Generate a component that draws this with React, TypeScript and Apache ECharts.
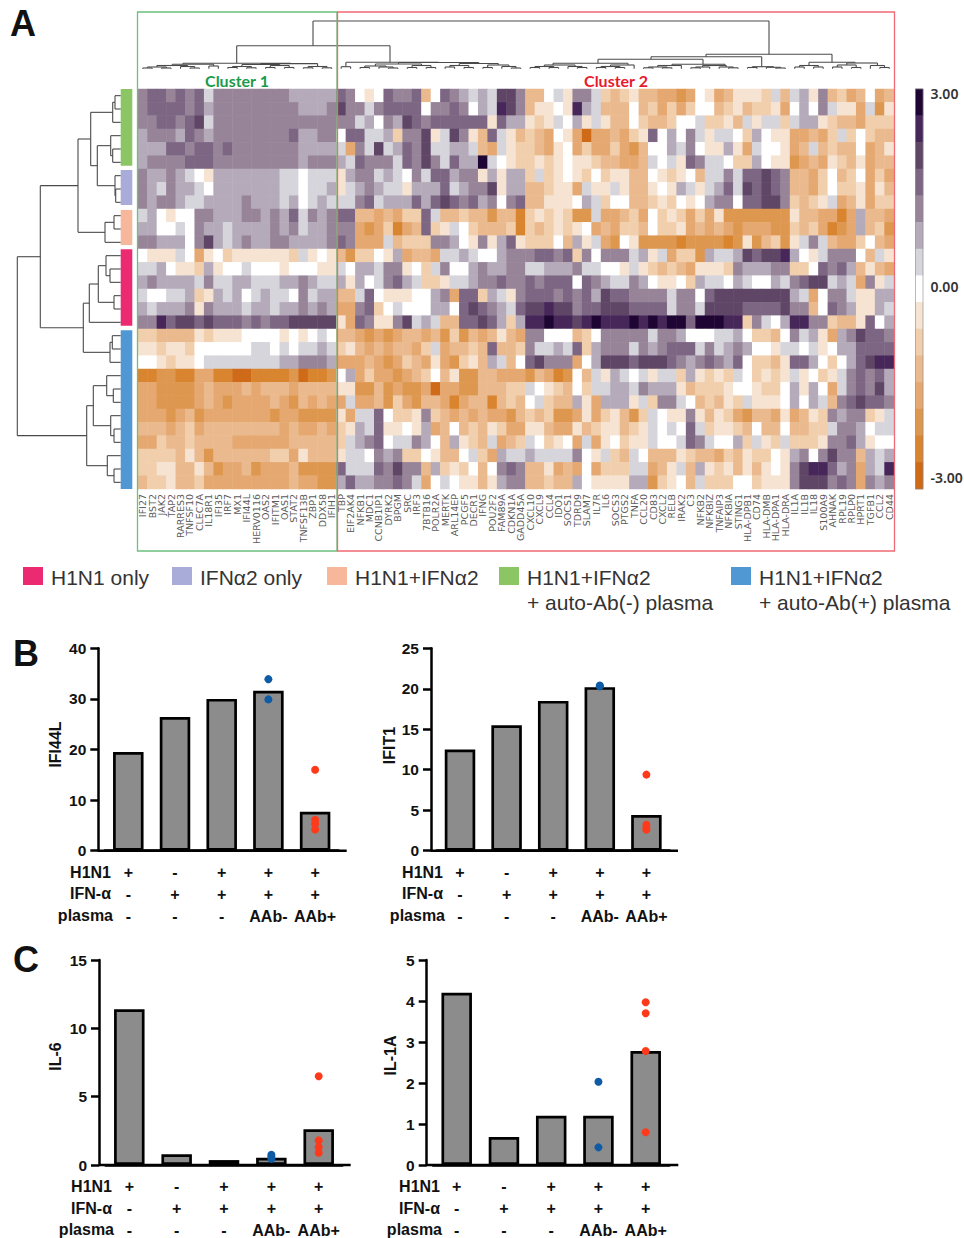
import React, { useEffect, useRef } from "react";
import * as echarts from "echarts";

const genes = ["IFI27","BST2","JAK2","TAP2","RARRES3","TNFSF10","CLEC7A","IL18R1","IFI35","IRF7","MX1","IFI44L","HERV0116","OAS2","IFITM1","OAS1","STAT2","TNFSF13B","ZBP1","DDX58","IFIH1","TBP","EIF2AK4","NFKB1","MDC1","CCNB1IP1","DYRK2","BPGM","SRC","IRF3","7BTB16","POLR2A","MERTK","ARL14EP","PCGF5","DECR1","IFNG","POU2F2","FAM89A","CDKN1A","GADD45A","CXCL10","CXCL9","CCL4","IDO1","SOCS1","TDRD9","SLAM7","IL7R","IL6","SOCS3","PTGS2","TNFA","CCL20","CD83","CXCL2","RELB","IRAK2","C3","NFKB2","NFKBIZ","TNFAIP3","NFKBIA","STING1","HLA-DPB1","CD74","HLA-DMB","HLA-DPA1","HLA-DRA","IL1A","IL1B","IL18","S100A9","AHNAK","RPL19","RPLP0","HPRT1","TGFB1","CCL2","CD44"];

// Heatmap rows, in colour-band steps (one step = 3/7 of a z-score)
const row00 = [3,4,4,3,4,3,4,1,3,3,3,3,3,3,3,3,2,2,2,2,2, 4,3,0,-1,0,4,3,3,4,-3,0,4,3,2,1,2,1,5,5,3, -3,-3,0,1,-1,3,3,1,-2,-3,-2,-1,-3,-3,-4,-4,-5,-4,0,-1,-4,-3,-1,-1,-1,-2,1,-3,1,2,-1,3,-3,-2,-4,-3,0,-4,-3];
const row01 = [3,4,4,4,4,3,4,2,3,3,3,3,3,3,3,3,3,2,2,2,3, 5,3,3,1,3,4,4,4,4,0,3,3,4,3,0,2,1,6,5,3, -3,-1,-1,0,-1,6,2,1,-3,-3,-3,0,-3,-2,-4,-2,-4,-2,0,0,-3,-2,-1,-3,-2,-2,-1,-4,0,2,0,3,1,-1,-1,-4,1,-5,-1];
const row02 = [3,3,4,4,3,4,5,1,3,3,3,3,3,3,3,3,3,3,3,3,3, 3,3,1,2,0,3,2,5,4,3,4,4,4,4,4,4,-1,4,2,2, -1,-2,-1,1,0,2,-1,1,-1,-3,-3,0,-2,-3,-3,-2,0,0,1,-2,-2,-1,-3,1,-1,1,1,-2,1,2,2,-1,-2,-3,-3,-4,-2,-2,-2];
const row03 = [2,3,3,3,2,4,3,2,3,3,3,3,3,3,3,3,4,2,2,3,3, 0,4,4,1,1,2,-2,3,3,5,-1,1,5,3,-1,-3,4,1,-1,-3, -2,-3,-4,0,-1,-4,-7,-4,-4,-3,-4,-2,-1,4,0,2,0,3,1,-1,1,1,0,-2,2,0,-1,-1,-4,-4,-3,-4,-2,1,-2,0,-2,-3,-3];
const row04 = [2,2,2,4,4,3,4,4,3,4,3,3,3,3,3,3,3,2,2,2,2, 1,-4,3,1,5,1,2,4,3,5,1,1,2,2,1,-3,-4,1,-1,-2, -2,-3,-4,-1,0,-4,-2,-4,-4,-2,-4,-5,-3,0,0,2,1,3,0,-1,-1,2,-1,-4,1,0,0,-1,-4,-3,1,-3,-2,-3,-3,0,-4,-3,-1];
const row05 = [2,3,3,3,3,4,4,4,3,3,3,3,3,3,3,3,3,2,3,3,3, 2,1,4,3,3,3,1,4,3,5,3,1,4,2,2,7,1,0,-1,-2, -2,-1,-2,-1,0,-1,-1,-2,-3,-3,-4,-4,-3,1,0,1,-1,4,3,1,1,0,-2,-2,2,0,-1,-1,-5,-4,-3,-4,-1,-2,-3,-1,-4,-3,-3];
const row06 = [3,2,2,3,2,1,0,-1,2,2,2,2,2,2,2,1,1,0,1,1,1, -1,2,3,3,1,2,1,0,3,1,4,4,2,3,3,-1,2,-1,2,2, -2,1,-2,-1,0,-1,-2,0,-2,-1,-1,-3,-3,0,-1,-2,-1,0,-3,1,1,3,1,4,4,5,4,3,-3,-3,-4,-2,0,-3,-2,0,-4,-2,-4];
const row07 = [3,2,1,3,2,2,1,0,2,2,2,2,2,2,2,1,1,0,1,1,2, -1,1,2,3,2,1,1,-1,2,2,2,4,1,2,3,3,5,-1,2,2, -3,-3,-2,-1,-1,-4,1,-1,-1,1,-1,-3,-3,-1,0,-1,2,1,-1,1,2,4,1,5,4,5,4,3,-3,-3,-4,-2,0,-2,-2,-1,-4,-1,-3];
const row08 = [3,2,3,3,2,1,1,2,2,2,2,3,2,2,2,1,2,0,1,2,1, 1,1,3,4,1,2,2,2,4,2,4,5,4,3,4,2,3,0,3,4, -3,-3,-1,-1,-1,0,2,1,-2,0,0,-3,-3,-2,-1,-2,0,-1,0,2,3,3,0,4,4,5,5,3,-2,-3,-2,-1,1,-4,-3,-1,-4,-2,-2];
const row09 = [1,2,0,-1,0,0,3,3,2,2,2,3,3,2,3,2,4,1,3,2,3, 4,4,-3,-3,-4,-3,-4,-2,-2,4,1,-3,-3,-2,-3,-3,-5,-3,-3,-6, -2,-1,-2,-1,-2,-5,-5,1,-4,-4,-3,-2,-4,0,-2,-1,-2,-4,-2,-4,-1,-5,-5,-5,-5,-5,-5,-5,-1,-3,-3,-4,-4,-6,-4,2,-3,-3,-4];
const row10 = [2,2,0,0,1,0,3,2,2,1,2,2,2,2,3,2,3,1,2,2,3, 3,3,-4,-5,-4,-2,-6,-4,-3,4,-2,-1,1,0,-2,-3,-3,-3,-2,-6, -2,-3,-2,-1,-2,-1,0,-4,-3,-4,-2,-2,-3,0,-2,-2,-1,-4,-3,-4,-3,-4,-5,-4,-4,-4,-5,-5,-2,-3,-2,-4,-6,-5,-4,2,-3,-2,-5];
const row11 = [3,3,2,2,2,0,3,5,2,1,2,3,2,2,3,3,2,2,2,2,3, 4,3,-4,-4,-4,1,-3,-2,-2,-2,3,3,2,0,-1,3,-1,2,4,-1, -2,-2,-2,0,-3,2,-1,1,-4,-5,0,-1,-5,-5,-5,-5,-6,-5,-5,-5,-5,-6,-5,-1,-5,-3,-2,-5,-1,1,3,1,-3,-4,-4,-2,0,-3,-4];
const row12 = [0,-1,-1,-1,1,0,-4,-1,0,-2,-1,-1,-1,-1,-1,-1,-2,1,-1,0,-1, -3,-5,-2,-2,0,-1,2,-4,-3,-3,-4,1,1,2,1,0,0,2,3,3, 3,4,4,3,4,-2,3,0,3,3,3,1,2,-1,1,-4,-2,-2,-5,2,1,1,2,5,4,5,5,6,2,0,-1,1,3,3,3,0,-3,1,-1];
const row13 = [1,1,2,0,-1,-1,-2,2,-1,0,0,1,0,0,0,-1,0,0,0,-1,-1, 1,0,2,2,1,3,3,-1,0,-2,1,3,0,0,2,3,2,2,3,3, 1,1,2,2,2,3,1,1,0,0,-1,1,-1,-2,-3,-2,-3,-4,-1,-1,-1,-2,3,2,2,2,3,3,-2,-2,0,4,3,4,2,-3,-1,-3,-4];
const row14 = [2,3,2,2,2,2,1,3,1,1,2,2,1,1,1,2,2,3,2,1,1, 2,-1,2,0,1,3,4,2,1,-2,-2,-1,1,1,2,3,3,4,3,3, 4,3,4,4,4,0,4,3,2,1,1,3,2,0,-1,-1,0,-2,2,1,1,0,2,1,0,0,2,1,3,4,5,5,1,2,1,-4,3,-1,1];
const row15 = [1,0,0,1,1,2,-2,-1,2,1,2,0,1,2,1,1,0,3,1,2,2, -3,-3,1,4,0,-1,-1,-1,0,0,2,3,-4,4,4,-2,2,1,-1,3, 4,4,4,3,4,3,4,2,5,4,4,3,3,3,3,1,3,3,0,4,5,5,5,5,5,5,5,5,2,1,-4,0,3,3,1,-1,-1,2,2];
const row16 = [2,1,2,2,2,3,-1,3,2,2,2,1,2,2,1,2,2,3,2,3,2, -4,-4,3,4,-2,0,1,0,0,0,2,2,0,4,5,4,3,2,1,4, 5,5,6,5,5,3,4,4,5,5,5,4,4,4,4,1,3,3,1,5,5,5,5,4,4,4,4,5,3,3,-3,0,4,3,2,-1,-1,2,1];
const row17 = [3,3,6,4,5,5,4,5,4,4,4,3,4,3,4,4,5,5,5,5,5, -1,-4,4,3,-1,-1,3,5,1,2,1,-3,-3,4,4,5,4,2,-2,2, 6,6,7,6,6,5,6,7,6,6,6,7,6,7,6,7,7,4,7,7,7,6,6,-2,3,1,0,2,6,6,3,3,-2,-3,-3,-1,4,0,2];
const row18 = [-2,-2,-3,-3,-3,-3,-1,-2,-1,-1,-1,0,0,0,0,-1,0,-1,0,1,0, -3,-3,-4,-5,-4,-5,-4,-3,-3,-4,-3,-5,-2,-5,-3,-4,-3,-1,-3,-4, 3,3,0,0,0,-3,-2,0,3,3,3,3,3,1,3,3,2,0,0,0,1,1,2,0,-2,-2,-3,0,3,1,2,-1,-4,2,3,5,4,4,3];
const row19 = [-1,-1,-2,-1,-1,-2,0,0,0,0,0,0,1,1,0,1,0,1,1,2,1, -2,-1,-3,-4,-3,-4,-3,-3,-4,-2,1,-4,-3,-3,-2,-3,4,-3,-3,-2, 3,1,1,2,1,4,-2,2,3,3,3,1,3,2,3,4,4,4,1,3,1,2,3,2,0,0,-1,1,1,0,1,-1,0,2,2,4,4,4,4];
const row20 = [0,0,-1,-2,-1,-1,0,1,1,1,1,1,1,1,1,2,2,3,3,3,2, -4,-4,-4,-3,-4,-5,-4,-2,-3,-4,-1,-4,-5,-2,-1,-3,2,1,-3,0, 4,5,3,3,3,-4,0,2,5,5,5,4,5,5,5,4,3,2,3,4,3,2,4,0,-2,-2,-3,-1,4,4,2,0,-2,0,2,4,5,6,6];
const row21 = [-6,-6,-5,-5,-6,-6,-4,-4,-6,-6,-7,-7,-6,-6,-6,-6,-5,-7,-6,-6,-5, 0,2,-4,-2,-4,-4,-5,-4,-3,-2,0,-3,-1,-5,-5,-3,-3,-4,-4,-4, -5,-3,-4,-6,-5,0,-3,1,-1,2,1,0,1,-1,1,1,-2,2,-1,-2,-1,-2,1,0,-2,-1,-2,-1,1,-1,0,-2,-1,1,3,4,3,4,2];
const row22 = [-4,-4,-5,-5,-5,-5,-4,-3,-4,-4,-4,-3,-4,-3,-3,-3,-4,-3,-3,-3,-3, -1,-1,-5,-5,-3,-5,-4,-5,-5,-4,-7,-4,-4,-5,-5,-3,-3,-3,-2,-2, 1,0,-1,-2,-3,0,-2,1,1,2,2,1,3,2,2,2,-1,-3,-2,-2,-2,-1,0,0,-1,-2,-2,0,2,-1,2,0,-4,1,3,4,3,5,2];
const row23 = [-4,-4,-5,-5,-5,-5,-4,-3,-4,-5,-4,-4,-4,-4,-3,-4,-5,-3,-4,-3,-4, -4,1,-4,-4,-3,-5,-2,-4,-5,-3,-3,-4,-6,-4,-3,-3,-6,-3,-2,-3, 0,1,-2,-3,-3,2,-1,-4,2,2,2,-1,1,-2,3,3,1,0,-3,-2,-3,-1,-2,1,-1,-1,-1,0,2,0,2,1,-3,3,4,5,4,4,3];
const row24 = [-4,-4,-4,-5,-4,-3,-5,-4,-4,-4,-4,-4,-4,-4,-5,-4,-4,-5,-5,-5,-5, -1,-4,1,1,4,0,-2,-2,-1,3,-2,-3,-4,-3,-4,-3,-4,-4,-5,-3, -2,-3,-2,-5,-5,-4,-1,-4,-2,-1,-3,-5,-2,1,0,-1,-1,3,-1,-3,-1,-2,-4,-5,-3,-3,-4,-1,-4,-3,-1,-2,3,2,3,3,-2,-1,1];
const row25 = [-3,-3,-3,-4,-3,-2,-4,-3,-3,-3,-3,-3,-3,-3,-3,-4,-3,-4,-4,-3,-4, -2,-1,2,1,4,-1,-1,0,-1,2,-4,-3,0,-3,-2,-3,-1,-2,-4,-4, -1,-1,-3,-4,-4,-1,-3,-2,-1,-1,-3,-2,-1,1,0,1,0,4,1,-2,-1,-1,-2,-3,0,-3,-3,0,-3,-3,-2,-2,1,3,3,2,0,1,1];
const row26 = [-4,-4,-2,-3,-3,-2,-3,-3,-3,-3,-4,-4,-4,-4,-4,-4,-3,-3,-3,-3,-3, -2,1,2,3,4,0,1,1,3,2,0,-3,2,-1,-2,-3,1,-4,-3,-2, 1,0,-2,-1,0,-4,1,-4,-1,0,-2,-1,-1,1,0,0,1,4,3,1,0,0,2,-2,1,-1,-2,1,-2,-2,-2,-1,3,3,4,2,-1,0,0];
const row27 = [-2,-2,-2,-2,-3,-1,-3,-5,-3,-3,-3,-3,-3,-3,-2,-2,-4,-1,-3,-3,-3, -1,1,1,0,3,2,3,-2,-2,0,-1,-3,-3,0,1,-2,-4,2,1,1, 2,1,1,1,1,3,0,-1,1,-2,-3,1,0,-3,-3,-3,-1,-2,-3,-3,-4,-2,-3,-1,-2,-2,0,-1,2,3,0,3,5,3,3,-3,2,1,2];
const row28 = [-2,-2,-1,-1,-3,-3,-1,-3,-5,-4,-4,-3,-5,-4,-4,-4,-3,-5,-5,-5,-5, 4,1,1,1,4,3,5,3,3,-3,2,-2,-1,-2,0,-3,0,3,4,3, -3,-3,-1,-4,-3,-4,0,-4,-2,-2,-2,1,1,-4,-3,-1,1,-3,2,-1,-2,-1,-3,-1,-3,-1,0,-1,3,5,6,6,4,2,3,-4,2,1,6];
const row29 = [-3,-2,-2,-1,-3,-3,-2,-4,-4,-4,-4,-4,-4,-4,-4,-4,-3,-4,-4,-5,-5, 2,4,2,2,3,3,4,3,1,-4,0,1,0,-1,-1,-3,-1,2,3,3, -3,-3,-2,-3,-3,2,0,-1,-1,-1,-1,2,2,-5,-2,-1,0,-3,1,-2,-2,-2,0,0,-2,-1,-1,-1,3,5,5,5,3,4,3,-4,3,2,3];
const heatRows = [row00,row01,row02,row03,row04,row05,row06,row07,row08,row09,row10,row11,row12,row13,row14,row15,row16,row17,row18,row19,row20,row21,row22,row23,row24,row25,row26,row27,row28,row29];
const bandLevels = [7,6,5,4,3,2,1,0,-1,-2,-3,-4,-5,-6,-7];
const bandColors = ["#1f0533","#47265a","#5f4566","#7c6683","#988498","#b5aaba","#d6d5dc","#ffffff","#f6e3d2","#f1cfac","#eaba8e","#e5a871","#de974f","#d9842f","#cf6a18"];
const Z_STEP = 3 / 7;

// Dendrograms: [depth, childA, childB, optional position along the leaves]; a number is a leaf
const rowTree: any = [17.3,[40.3,[78,[90.7,[112.7,[115,0,1],2],[97.3,[110.7,3,[112.7,4,5]],[115,6,[115.7,7,8]]]],[105,[114,9,10],11]],[83.3,[89.3,[98.3,[106,12,[110,13,14]],[114,15,16]],17],[110,[112.3,18,19],20]]],[86.7,[93.3,[106.7,21,[113.3,22,23]],[110.7,24,[114,25,26]]],[107.3,27,[114,28,29]]]];
const colTree: any = [21,
  [45.7,
    [63.3,
      [64.2,[65.5,[67,[68,0,1],[68,2,3]],[66.5,4,[68,5,6]]],[66,7,8],183],
      [63.6,[64.5,[66.5,[67.5,9,10],[67.8,11,12]],[65.5,[67.5,13,14],[67.5,15,16]]],[66.5,[67.8,17,18],[67.8,19,20]],290.7],
      236.7],
    [62.3,
      [66.7,21,22],
      [62.5,[64,[66,[67.5,23,24],[67,25,[68,26,27]]],[65.5,[67.5,28,29],[67.5,30,31]]],[63.5,[65.5,[67,32,33],[67.5,34,35]],[65,[67.5,36,37],[66.5,38,[68,39,40]]]]],
      390],
    313],
  [54.3,
    [56.7,
      [59.3,
        [63.3,[65,[66.5,[67.5,41,42],[67.5,43,44]],[66.5,45,[67.5,46,47]],553],[65,[66.5,[67.5,48,49],[67.5,50,51]],52,628],598],
        [64.3,[65.5,[67,[67.8,53,54],[67.8,55,56]],57,672],[65.5,[67,[67.8,58,59],60],[67,61,[67.8,62,63]],725],703],
        651],
      [66.7,[67.5,64,65],[67.3,66,[68,67,68]],761.7],
      706],
    [62.3,
      [65.5,[67,69,70],[67,71,72],809],
      [63,[65,[67,73,74],[67.5,75,76]],[65.5,77,[67.5,78,79]],855],
      832],
    769]];

// Bar panels
const conditions = ["+\n-\n-", "-\n+\n-", "+\n+\n-", "+\n+\nAAb-", "+\n+\nAAb+"];
const ifi44lBars = [19.5, 26.4, 30, 31.6, 7.7];
const ifi44lNeg = [33.9, 29.9];
const ifi44lPos = [16, 6.1, 5.3, 4.2];
const ifit1Bars = [12.5, 15.5, 18.5, 20.2, 4.4];
const ifit1Neg = [20.4, 20.3];
const ifit1Pos = [9.4, 3.2, 2.8, 2.6];
const il6Bars = [11.4, 0.78, 0.36, 0.53, 2.62];
const il6Neg = [0.75, 0.6, 0.45];
const il6Pos = [6.5, 1.8, 1.3, 0.9];
const il1aBars = [4.2, 0.68, 1.2, 1.2, 2.78];
const il1aNeg = [2.03, 0.43];
const il1aPos = [3.97, 3.7, 2.78, 0.8];

const legendItems = [
  { color: "#ec2a72", x: 23, lines: ["H1N1 only"] },
  { color: "#a9abd9", x: 172, lines: ["IFNα2 only"] },
  { color: "#f7b79b", x: 327, lines: ["H1N1+IFNα2"] },
  { color: "#8cc664", x: 499, lines: ["H1N1+IFNα2", "+ auto-Ab(-) plasma"] },
  { color: "#4f98d3", x: 731, lines: ["H1N1+IFNα2", "+ auto-Ab(+) plasma"] },
];
const rowBands = [
  { color: "#8cc664", y0: 89, y1: 165.7 },
  { color: "#a9abd9", y0: 170, y1: 205 },
  { color: "#f7b79b", y0: 210, y1: 245 },
  { color: "#ec2a72", y0: 249.3, y1: 325.7 },
  { color: "#4f98d3", y0: 330.3, y1: 489 },
];

const SANS = '"Liberation Sans", Arial, sans-serif';

function treeSegments(node: any, leafAcross: (i: number) => number, leafDepth: number, out: number[][], horizontal: boolean): number[] {
  if (typeof node === "number") return [leafDepth, leafAcross(node)];
  const [depth, a, b, fixed] = node;
  const pa = treeSegments(a, leafAcross, leafDepth, out, horizontal);
  const pb = treeSegments(b, leafAcross, leafDepth, out, horizontal);
  const across = fixed !== undefined ? fixed : (pa[1] + pb[1]) / 2;
  const push = (d1: number, c1: number, d2: number, c2: number) =>
    out.push(horizontal ? [d1, c1, d2, c2] : [c1, d1, c2, d2]);
  push(depth, pa[1], depth, pb[1]);
  push(depth, pa[1], pa[0], pa[1]);
  push(depth, pb[1], pb[0], pb[1]);
  return [depth, across];
}

function buildOption() {
  const grid: any[] = [], xAxis: any[] = [], yAxis: any[] = [], series: any[] = [], graphic: any[] = [];
  const text = (t: string, x: number, y: number, font: string, fill: string, align = "left") =>
    graphic.push({ type: "text", z: 120, style: { text: t, x, y, font, fill, textAlign: align, textVerticalAlign: "middle", align, verticalAlign: "middle" } });

  // heatmap
  const heatCells: number[][] = [];
  heatRows.forEach((row, r) => row.forEach((v, c) => heatCells.push([c, r, v * Z_STEP])));
  grid.push({ left: 138, top: 89, width: 756, height: 400, outerBoundsMode: "none" });
  xAxis.push({ type: "category", gridIndex: 0, data: genes, position: "bottom", axisLine: { show: false }, axisTick: { show: false }, splitLine: { show: false },
    axisLabel: { rotate: 90, interval: 0, margin: 5, fontSize: 9.5, color: "#5a5a5a", fontFamily: '"DejaVu Sans"' } });
  yAxis.push({ type: "category", gridIndex: 0, inverse: true, data: heatRows.map((_, i) => "row " + (i + 1)), show: false });
  series.push({ type: "heatmap", xAxisIndex: 0, yAxisIndex: 0, data: heatCells, silent: true, progressive: 0, itemStyle: { borderWidth: 0 } });

  // colour bar
  grid.push({ left: 915.5, top: 89, width: 7.5, height: 400, outerBoundsMode: "none" });
  xAxis.push({ type: "category", gridIndex: 1, data: ["z"], show: false });
  yAxis.push({ type: "category", gridIndex: 1, inverse: true, data: bandLevels.map(String), show: false });
  series.push({ type: "heatmap", xAxisIndex: 1, yAxisIndex: 1, data: bandLevels.map((l, i) => [0, i, l * Z_STEP]), silent: true, itemStyle: { borderWidth: 0 } });
  graphic.push({ type: "rect", z: 100, shape: { x: 915.5, y: 89, width: 7.5, height: 400 }, style: { fill: "none", stroke: "#8a8a8a", lineWidth: 0.6 } });
  text("3.00", 930.5, 93.5, `600 14px "Noto Sans"`, "#333");
  text("0.00", 930.5, 286, `600 14px "Noto Sans"`, "#333");
  text("-3.00", 930.5, 477, `600 14px "Noto Sans"`, "#333");

  // overlay for dendrograms
  const segments: number[][] = [];
  treeSegments(rowTree, (i) => 89 + (400 / 30) * (i + 0.5), 120.7, segments, true);
  treeSegments(colTree, (i) => 138 + 9.45 * (i + 0.5), 68.7, segments, false);
  grid.push({ left: 0, top: 0, width: 964, height: 1238, outerBoundsMode: "none" });
  xAxis.push({ type: "value", gridIndex: 2, min: 0, max: 964, show: false });
  yAxis.push({ type: "value", gridIndex: 2, min: 0, max: 1238, inverse: true, show: false });
  series.push({
    type: "custom", xAxisIndex: 2, yAxisIndex: 2, data: segments, silent: true, clip: false, encode: { x: [0, 2], y: [1, 3] },
    renderItem: (_: any, api: any) => {
      const a = api.coord([api.value(0), api.value(1)]);
      const b = api.coord([api.value(2), api.value(3)]);
      return { type: "line", shape: { x1: a[0], y1: a[1], x2: b[0], y2: b[1] }, style: { stroke: "#4a4a4a", lineWidth: 1.1 } };
    },
  });

  // row colour bands, cluster boxes, cluster titles
  rowBands.forEach((b) => graphic.push({ type: "rect", shape: { x: 120.7, y: b.y0, width: 11.6, height: b.y1 - b.y0 }, style: { fill: b.color } }));
  graphic.push({ type: "rect", z: 110, shape: { x: 137.5, y: 12, width: 199.5, height: 539 }, style: { fill: "none", stroke: "#6cc07c", lineWidth: 1.3 } });
  graphic.push({ type: "rect", z: 111, shape: { x: 337.5, y: 12, width: 557, height: 539 }, style: { fill: "none", stroke: "#ef6a74", lineWidth: 1.3 } });
  text("Cluster 1", 237, 80, `bold 16px Lato`, "#1a9b4b", "center");
  text("Cluster 2", 616, 80, `bold 16px Lato`, "#e8192c", "center");

  // legend
  legendItems.forEach((it) => {
    graphic.push({ type: "rect", shape: { x: it.x, y: 567, width: 20, height: 18 }, style: { fill: it.color } });
    it.lines.forEach((l, i) => text(l, it.x + 28, 577 + i * 25, `21px ${SANS}`, "#333"));
  });

  // panel letters
  text("A", 10, 23, `bold 36px ${SANS}`, "#111");
  text("B", 13, 653, `bold 36px ${SANS}`, "#111");
  text("C", 13, 959, `bold 36px ${SANS}`, "#111");

  // bar panels
  const addPanel = (p: any) => {
    const gi = grid.length;
    const left = p.c0 - p.sp / 2;
    const width = p.sp * 5;
    grid.push({ left, top: p.yTop, width, height: p.y0 - p.yTop, outerBoundsMode: "none" });
    xAxis.push({ type: "category", gridIndex: gi, data: conditions,
      axisLine: { lineStyle: { color: "#000", width: 2.5 } },
      axisTick: { alignWithLabel: true, length: 7, lineStyle: { color: "#000", width: 2 } },
      axisLabel: { interval: 0, margin: 10.5, lineHeight: 22, fontSize: 16, fontWeight: "bold", color: "#111", fontFamily: SANS } });
    yAxis.push({ type: "value", gridIndex: gi, min: 0, max: p.max, interval: p.step, offset: left - p.axisX,
      name: p.name, nameLocation: "middle", nameGap: p.nameGap, nameRotate: 90,
      nameTextStyle: { fontSize: 16, fontWeight: "bold", color: "#111", fontFamily: SANS, padding: [0, 0, 0, p.namePad] },
      splitLine: { show: false },
      axisLine: { show: true, lineStyle: { color: "#000", width: 2.5 } },
      axisTick: { show: true, length: 8, lineStyle: { color: "#000", width: 2.5 } },
      axisLabel: { margin: 12, fontSize: 15.5, fontWeight: "bold", color: "#111", fontFamily: SANS } });
    series.push({ type: "bar", xAxisIndex: gi, yAxisIndex: gi, data: p.bars, barWidth: 30.5, silent: true,
      itemStyle: { color: "#8c8c8c", borderColor: "#000", borderWidth: 2.7 } });
    series.push({ type: "scatter", xAxisIndex: gi, yAxisIndex: gi, data: p.neg.map((v: number) => [3, v]), symbolSize: 8, z: 5, silent: true, itemStyle: { color: "#0f5ba5", opacity: 1 } });
    series.push({ type: "scatter", xAxisIndex: gi, yAxisIndex: gi, data: p.pos.map((v: number) => [4, v]), symbolSize: 8, z: 5, silent: true, itemStyle: { color: "#ff3a1a", opacity: 1 } });
    graphic.push({ type: "line", z: 60, shape: { x1: p.axisX, y1: p.y0, x2: p.axisEnd, y2: p.y0 }, style: { stroke: "#000", lineWidth: 2.5 } });
    ["H1N1", "IFN-α", "plasma"].forEach((t, i) =>
      text(t, p.titleRight + (i === 2 ? 2 : 0), p.y0 + 21.5 + i * 21.7, `bold 16px ${SANS}`, "#111", "right"));
  };
  addPanel({ name: "IFI44L", max: 40, step: 10, bars: ifi44lBars, neg: ifi44lNeg, pos: ifi44lPos, c0: 128.3, sp: 46.7, axisX: 98.3, axisEnd: 346.7, yTop: 648.3, y0: 850.7, nameGap: 35, namePad: 10, titleRight: 111 });
  addPanel({ name: "IFIT1", max: 25, step: 5, bars: ifit1Bars, neg: ifit1Neg, pos: ifit1Pos, c0: 460, sp: 46.6, axisX: 431, axisEnd: 678, yTop: 648.3, y0: 850.7, nameGap: 34, namePad: 8, titleRight: 443 });
  addPanel({ name: "IL-6", max: 15, step: 5, bars: il6Bars, neg: il6Neg, pos: il6Pos, c0: 129.3, sp: 47.35, axisX: 99, axisEnd: 350.7, yTop: 960, y0: 1165, nameGap: 36, namePad: 12, titleRight: 112 });
  addPanel({ name: "IL-1A", max: 5, step: 1, bars: il1aBars, neg: il1aNeg, pos: il1aPos, c0: 456.7, sp: 47.25, axisX: 426.7, axisEnd: 678.3, yTop: 960, y0: 1165, nameGap: 28, namePad: 14, titleRight: 440 });

  const pieces = bandLevels.map((l, i) => ({ gte: (l - 0.5) * Z_STEP, lt: (l + 0.5) * Z_STEP, color: bandColors[i] }));
  return {
    animation: false,
    backgroundColor: "#ffffff",
    grid, xAxis, yAxis, series, graphic,
    visualMap: { type: "piecewise", show: false, seriesIndex: [0, 1], dimension: 2, pieces },
  };
}

export default function App() {
  const ref = useRef<HTMLDivElement>(null);
  useEffect(() => {
    const chart = echarts.init(ref.current!, undefined, { renderer: "svg" });
    chart.setOption(buildOption() as any);
    return () => chart.dispose();
  }, []);
  return <div ref={ref} style={{ position: "absolute", left: 0, top: 0, width: 964, height: 1238 }} />;
}
